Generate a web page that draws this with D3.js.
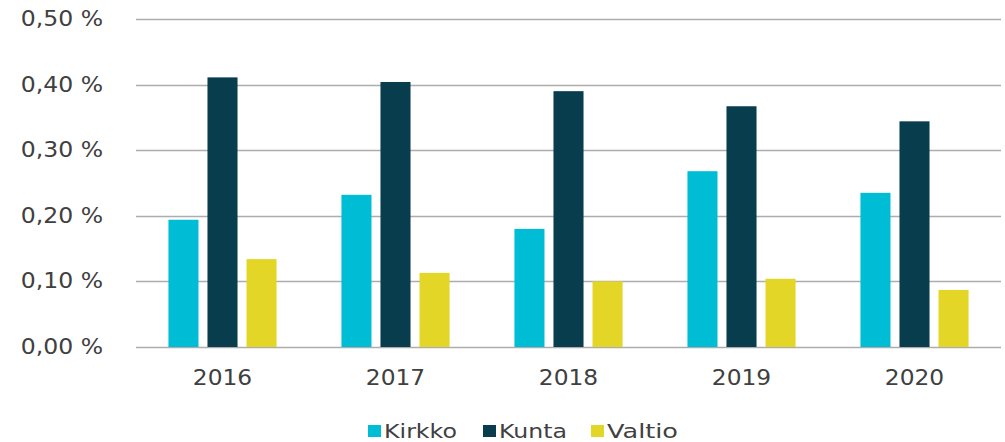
<!DOCTYPE html>
<html>
<head>
<meta charset="utf-8">
<script src="https://cdn.jsdelivr.net/npm/d3@7"></script>
<style>
  html, body { margin: 0; padding: 0; background: #fff; }
  svg text { font-family: "DejaVu Sans", Verdana, sans-serif; fill: #404040; }
</style>
</head>
<body>
<svg id="chart" width="1005" height="442"></svg>
<script>
const years = ["2016", "2017", "2018", "2019", "2020"];
const seriesNames = ["Kirkko", "Kunta", "Valtio"];
const kirkko = [0.194, 0.232, 0.180, 0.268, 0.235];
const kunta  = [0.411, 0.404, 0.390, 0.367, 0.344];
const valtio = [0.134, 0.113, 0.100, 0.104, 0.087];
const yTicks = [0, 0.1, 0.2, 0.3, 0.4, 0.5];
const colors = ["#00BDD6", "#083D4E", "#E4D626"];

const seriesValues = [kirkko, kunta, valtio];
const data = years.map((yr, i) => ({ year: yr, values: seriesNames.map((s, j) => ({ key: s, value: seriesValues[j][i] })) }));

const svg = d3.select("#chart");
const mLeft = 136, mRight = 1001, mTop = 19, mBottom = 347;

const x0 = d3.scaleBand().domain(years).range([mLeft, mRight]).paddingInner(0.375).paddingOuter(0.1875);
const x1 = d3.scaleBand().domain(seriesNames).range([0, x0.bandwidth()]).paddingInner(0.23).paddingOuter(0);
const y = d3.scaleLinear().domain([0, 0.5]).range([mBottom, mTop]);
const color = d3.scaleOrdinal().domain(seriesNames).range(colors);

function stretch(sel, k) {
  sel.each(function () {
    const w = this.getComputedTextLength();
    d3.select(this).attr("textLength", w * k).attr("lengthAdjust", "spacingAndGlyphs");
  });
}

// gridlines
svg.append("g").selectAll("line").data(yTicks).join("line")
  .attr("x1", mLeft).attr("x2", mRight)
  .attr("y1", d => Math.round(y(d)) + 0.5).attr("y2", d => Math.round(y(d)) + 0.5)
  .attr("stroke", "#ADADAD").attr("stroke-width", 1.3);

// y labels
const fmt = d => d3.format(".2f")(d).replace(".", ",") + " %";
svg.append("g").selectAll("text").data(yTicks).join("text")
  .attr("x", 103).attr("y", d => y(d))
  .attr("text-anchor", "end").attr("dominant-baseline", "central")
  .style("font-size", "21px")
  .text(fmt)
  .call(stretch, 1.12);

// bars
svg.append("g").selectAll("g").data(data).join("g")
  .attr("transform", d => `translate(${x0(d.year)},0)`)
  .selectAll("rect").data(d => d.values).join("rect")
  .attr("x", d => x1(d.key)).attr("width", x1.bandwidth())
  .attr("y", d => y(d.value)).attr("height", d => y(0) - y(d.value))
  .attr("fill", d => color(d.key));

// x labels
svg.append("g").selectAll("text").data(years).join("text")
  .attr("x", d => x0(d) + x0.bandwidth() / 2).attr("y", 385)
  .attr("text-anchor", "middle")
  .style("font-size", "21px")
  .text(d => d)
  .call(stretch, 1.11);

// legend
const legendPos = [368, 483, 591];
const legendTextLen = [73, 68, 71];
const lg = svg.append("g").selectAll("g").data(seriesNames).join("g")
  .attr("transform", (d, i) => `translate(${legendPos[i]},0)`);
lg.append("rect").attr("x", 0).attr("y", 425).attr("width", 13).attr("height", 12).attr("fill", d => color(d));
lg.append("text").attr("x", 16).attr("y", 438).style("font-size", "19px")
  .attr("textLength", (d, i) => legendTextLen[i]).attr("lengthAdjust", "spacingAndGlyphs")
  .text(d => d);
</script>
</body>
</html>
